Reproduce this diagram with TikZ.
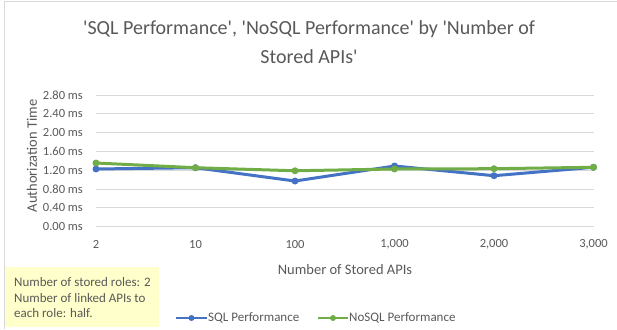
\documentclass[tikz,border=0pt]{standalone}
\usepackage{fontspec}
\setmainfont{Carlito}
\usetikzlibrary{positioning}
\definecolor{sqlblue}{HTML}{4472C4}
\definecolor{nosqlgreen}{HTML}{70AD47}
\definecolor{gridgray}{HTML}{D9D9D9}
\definecolor{labelgray}{HTML}{595959}
\definecolor{notebg}{HTML}{FFFFCC}
\newcommand{\sq}{\textquotesingle}
\tikzset{
    gridline/.style={gridgray, line width=0.9pt},
    ticklabel/.style={text=labelgray, inner sep=0pt, font=\fontsize{12.5}{14}\selectfont},
    axistitle/.style={text=labelgray, inner sep=0pt, font=\fontsize{14.5}{17}\selectfont},
    sqlline/.style={sqlblue, line width=3pt, line join=round},
    nosqlline/.style={nosqlgreen, line width=3pt, line join=round},
    sqlmark/.style={circle, fill=sqlblue, inner sep=0pt, minimum size=7pt},
    nosqlmark/.style={circle, fill=nosqlgreen, inner sep=0pt, minimum size=7pt},
    keytext/.style={text=labelgray, inner sep=0pt, font=\fontsize{13}{15}\selectfont},
}
\begin{document}
\begin{tikzpicture}[x=1pt,y=-1pt]
    \useasboundingbox (0,0) rectangle (617,329);
    \draw[gridgray, line width=1pt] (4,329) -- (4,2) -- (617,2);
    % Title
    \node[text=labelgray, align=center, inner sep=0pt, font=\fontsize{20}{29.5}\selectfont] (title) at (309,42)
        {\sq SQL Performance\sq, \sq NoSQL Performance\sq\ by \sq Number of\\Stored APIs\sq};
    % Grid and axis labels
    \foreach \lab [count=\i from 0] in {0.00,0.40,0.80,1.20,1.60,2.00,2.40,2.80} {
        \draw[gridline] (96,{226.7-18.8*\i}) -- (593.5,{226.7-18.8*\i});
        \node[ticklabel, anchor=east] (ylab\i) at (83,{226.7-18.8*\i}) {\lab\ ms};
    }
    \foreach \lab [count=\i from 0] in {2,10,100,{1,000},{2,000},{3,000}}
        \node[ticklabel] (xlab\i) at ({96+99.5*\i},244) {\lab};
    \node[axistitle] (xtitle) at (345,270) {Number of Stored APIs};
    \node[axistitle, rotate=90] (ytitle) at (32,156) {Authorization Time};
    % SQL series
    \foreach \v [count=\i from 0] in {1.228,1.255,0.972,1.291,1.085,1.264}
        \coordinate (sql\i) at ({96+99.5*\i},{226.7-47*\v});
    \draw[sqlline] (sql0) -- (sql1) -- (sql2) -- (sql3) -- (sql4) -- (sql5);
    \foreach \i in {0,...,5}
        \node[sqlmark] (sqlpt\i) at (sql\i) {};
    % NoSQL series
    \foreach \v [count=\i from 0] in {1.355,1.255,1.190,1.228,1.234,1.264}
        \coordinate (nosql\i) at ({96+99.5*\i},{226.7-47*\v});
    \draw[nosqlline] (nosql0) -- (nosql1) -- (nosql2) -- (nosql3) -- (nosql4) -- (nosql5);
    \foreach \i in {0,...,5}
        \node[nosqlmark] (nosqlpt\i) at (nosql\i) {};
    % Legend
    \coordinate (sqlkeyA) at (176,318);
    \coordinate (sqlkeyB) at (207,318);
    \draw[sqlline, line width=2.5pt] (sqlkeyA) -- (sqlkeyB);
    \node[sqlmark, minimum size=6pt] (sqlkeydot) at (191.5,318) {};
    \node[keytext, right=1pt of sqlkeyB] (sqlkey) {SQL Performance};
    \coordinate (nosqlkeyA) at (318,318);
    \coordinate (nosqlkeyB) at (348,318);
    \draw[nosqlline, line width=2.5pt] (nosqlkeyA) -- (nosqlkeyB);
    \node[nosqlmark, minimum size=6pt] (nosqlkeydot) at (333,318) {};
    \node[keytext, right=1pt of nosqlkeyB] (nosqlkey) {NoSQL Performance};
    % Note
    \fill[notebg] (5,267) rectangle (159,327);
    \node[text=labelgray, align=left, anchor=west, inner sep=0pt, font=\fontsize{13}{15.5}\selectfont] (note) at (14,298)
        {Number of stored roles: 2\\Number of linked APIs to\\each role: half.};
\end{tikzpicture}
\end{document}
